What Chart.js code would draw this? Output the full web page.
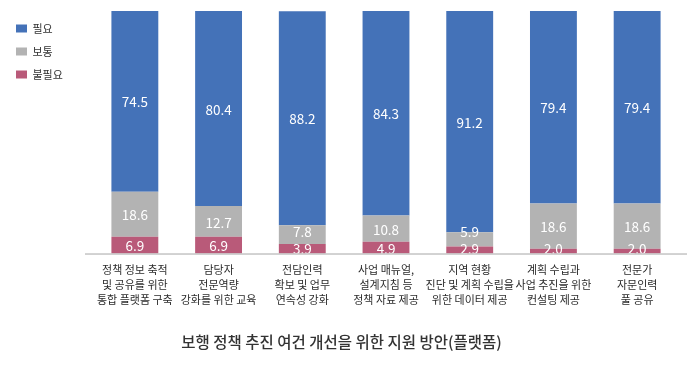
<!DOCTYPE html>
<html>
<head>
<meta charset="utf-8">
<script src="https://cdn.jsdelivr.net/npm/chart.js@4"></script>
<style>
  html, body { margin: 0; padding: 0; background: #fff; }
  #wrap { width: 700px; height: 365px; }
</style>
</head>
<body>
<div id="wrap"><canvas id="chart" width="700" height="365"></canvas></div>
<script>
// 항목 (x축 라벨)
var categories = [
  ["정책 정보 축적", "및 공유를 위한", "통합 플랫폼 구축"],
  ["담당자", "전문역량", "강화를 위한 교육"],
  ["전담인력", "확보 및 업무", "연속성 강화"],
  ["사업 매뉴얼,", "설계지침 등", "정책 자료 제공"],
  ["지역 현황", "진단 및 계획 수립을", "위한 데이터 제공"],
  ["계획 수립과", "사업 추진을 위한", "컨설팅 제공"],
  ["전문가", "자문인력", "풀 공유"]
];

var needed = [74.5, 80.4, 88.2, 84.3, 91.2, 79.4, 79.4];     // 필요
var neutral = [18.6, 12.7, 7.8, 10.8, 5.9, 18.6, 18.6];       // 보통
var notNeeded = [6.9, 6.9, 3.9, 4.9, 2.9, 2.0, 2.0];          // 불필요

var chartTitle = "보행 정책 추진 여건 개선을 위한 지원 방안(플랫폼)";
var FONT = "'Noto Sans CJK KR', 'Noto Sans', sans-serif";
var LEGEND_W = 89;

// 막대 안 숫자 라벨 (작은 구간은 겹치지 않게 위로 밀기)
var valueLabels = {
  id: 'valueLabels',
  afterDatasetsDraw: function(chart) {
    var ctx = chart.ctx;
    ctx.save();
    ctx.fillStyle = '#ffffff';
    ctx.font = '13.5px ' + FONT;
    ctx.textAlign = 'center';
    ctx.textBaseline = 'middle';
    var n = chart.data.labels.length;
    for (var i = 0; i < n; i++) {
      var prevY = chart.chartArea.bottom + 11;
      chart.data.datasets.forEach(function(ds, di) {
        var bar = chart.getDatasetMeta(di).data[i];
        var y = (bar.y + bar.base) / 2;
        y = Math.min(y, prevY - 17);
        ctx.fillText(ds.data[i].toFixed(1), bar.x, y + 1);
        prevY = y;
      });
    }
    ctx.restore();
  }
};

// 바닥 축선
var baseLine = {
  id: 'baseLine',
  afterDatasetsDraw: function(chart) {
    var a = chart.chartArea;
    var ctx = chart.ctx;
    ctx.save();
    ctx.strokeStyle = '#a6a6a6';
    ctx.lineWidth = 1;
    ctx.beginPath();
    ctx.moveTo(a.left - 8, a.bottom + 0.5);
    ctx.lineTo(a.right + 8, a.bottom + 0.5);
    ctx.stroke();
    ctx.restore();
  }
};

// 범례 폭 고정 (막대 위치 맞추기)
var legendWidth = {
  id: 'legendWidth',
  beforeLayout: function(chart) {
    var lg = chart.legend;
    if (lg && !lg._fixedW) {
      var fit = lg.fit;
      lg.fit = function() {
        fit.call(this);
        this.width = LEGEND_W;
      };
      lg._fixedW = true;
    }
  }
};

new Chart(document.getElementById('chart').getContext('2d'), {
  type: 'bar',
  data: {
    labels: categories,
    datasets: [
      { label: '불필요', data: notNeeded, backgroundColor: '#b95a79' },
      { label: '보통', data: neutral, backgroundColor: '#b3b3b3' },
      { label: '필요', data: needed, backgroundColor: '#4472b8' }
    ]
  },
  options: {
    responsive: false,
    animation: false,
    layout: { padding: { left: 4, right: 21, top: 11, bottom: 4 } },
    datasets: { bar: { categoryPercentage: 1, barPercentage: 0.56 } },
    scales: {
      x: {
        stacked: true,
        grid: { display: false, drawTicks: false },
        border: { display: false },
        ticks: { color: '#2b2b2b', font: { family: FONT, size: 11, lineHeight: 1.36 }, padding: 9, maxRotation: 0, autoSkip: false }
      },
      y: {
        stacked: true,
        display: false,
        min: 0,
        max: 100
      }
    },
    plugins: {
      legend: {
        position: 'left',
        align: 'start',
        reverse: true,
        labels: {
          boxWidth: 11,
          boxHeight: 8,
          padding: 12,
          color: '#333',
          font: { family: FONT, size: 11 }
        }
      },
      title: {
        display: true,
        position: 'bottom',
        text: chartTitle,
        color: '#333',
        font: { family: FONT, size: 15.5, weight: '500' },
        padding: { top: 16, bottom: 10 }
      },
      tooltip: { enabled: false }
    }
  },
  plugins: [valueLabels, baseLine, legendWidth]
});
</script>
</body>
</html>
